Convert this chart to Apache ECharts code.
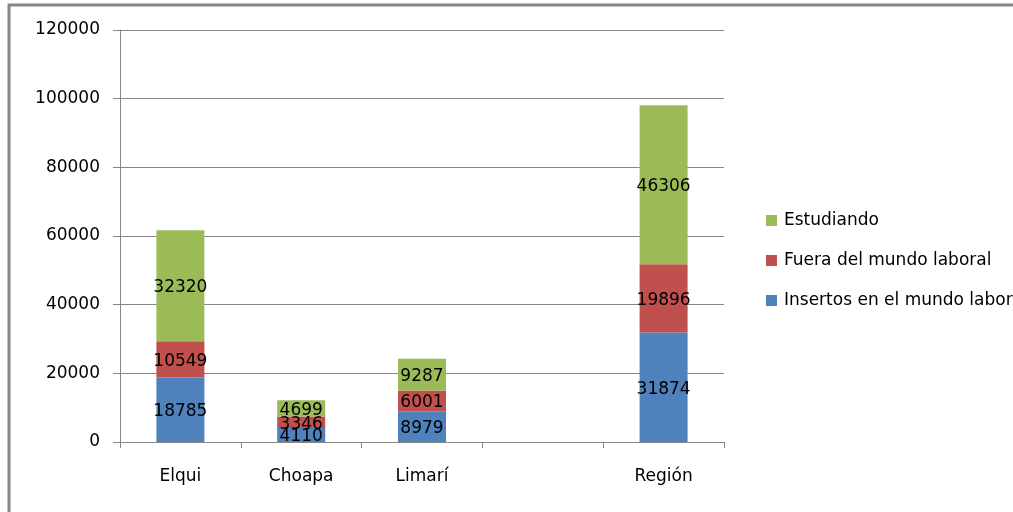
<!DOCTYPE html>
<html>
<head>
<meta charset="utf-8">
<script src="https://cdn.jsdelivr.net/npm/echarts@6/dist/echarts.min.js"></script>
<style>
html,body{margin:0;padding:0;background:#fff;}
#c{width:1013px;height:512px;}
</style>
</head>
<body>
<div id="c"></div>
<script>
const categories = ['Elqui', 'Choapa', 'Limarí', '', 'Región'];
const insertos = [18785, 4110, 8979, null, 31874];
const fuera = [10549, 3346, 6001, null, 19896];
const estudiando = [32320, 4699, 9287, null, 46306];
const yTicks = [0, 20000, 40000, 60000, 80000, 100000, 120000];

const FONT = 'DejaVu Sans';
const chart = echarts.init(document.getElementById('c'), null, {renderer: 'canvas'});

const labelCfg = {
  show: true, position: 'inside', offset: [0, 2], color: '#000', fontFamily: FONT, fontSize: 17
};
function mk(name, data, color) {
  return {
    name: name, type: 'bar', stack: 's', data: data, barWidth: 48,
    itemStyle: {color: color}, label: labelCfg
  };
}

chart.setOption({
  animation: false,
  graphic: [{
    type: 'rect', shape: {x: 9, y: 5, width: 1100, height: 600},
    style: {fill: 'none', stroke: '#868686', lineWidth: 3}, silent: true
  }],
  grid: {left: 120, right: 289, top: 30, bottom: 70, containLabel: false},
  legend: {
    orient: 'vertical', left: 761, top: 207, itemGap: 23,
    itemWidth: 11, itemHeight: 11, icon: 'rect',
    data: ['Estudiando', 'Fuera del mundo laboral', 'Insertos en el mundo laboral'],
    textStyle: {fontFamily: FONT, fontSize: 17, color: '#000', padding: [0,0,0,2]}
  },
  xAxis: {
    type: 'category', data: categories,
    axisLine: {lineStyle: {color: '#868686', width: 1}},
    axisTick: {show: true, length: 6, lineStyle: {color: '#868686'}},
    axisLabel: {color: '#000', fontFamily: FONT, fontSize: 17, margin: 26}
  },
  yAxis: {
    type: 'value', min: yTicks[0], max: yTicks[yTicks.length - 1], interval: 20000,
    axisLine: {show: true, lineStyle: {color: '#868686'}},
    axisTick: {show: true, length: 7, lineStyle: {color: '#868686'}},
    splitLine: {lineStyle: {color: '#868686', width: 1}},
    axisLabel: {color: '#000', fontFamily: FONT, fontSize: 17, margin: 20,
      formatter: function (v) { return String(v); }}
  },
  series: [
    mk('Insertos en el mundo laboral', insertos, '#4F81BD'),
    mk('Fuera del mundo laboral', fuera, '#C0504D'),
    mk('Estudiando', estudiando, '#9BBB59')
  ]
});
</script>
</body>
</html>
